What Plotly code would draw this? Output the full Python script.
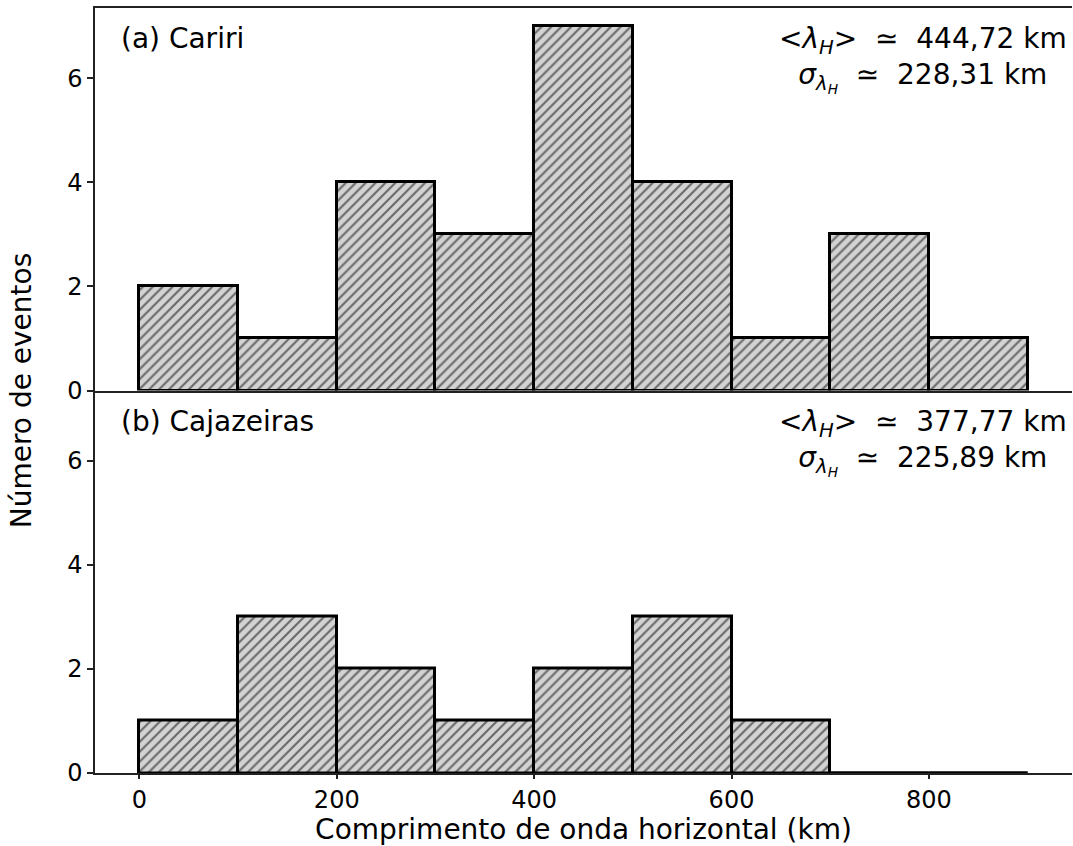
import plotly.graph_objects as go
from plotly.subplots import make_subplots

bin_edges = [0, 100, 200, 300, 400, 500, 600, 700, 800, 900]
cariri_counts = [2, 1, 4, 3, 7, 4, 1, 3, 1]
cajazeiras_counts = [1, 3, 2, 1, 2, 3, 1, 0, 0]
x_ticks = [0, 200, 400, 600, 800]
y_ticks = [0, 2, 4, 6]
panel_titles = ["(a) Cariri", "(b) Cajazeiras"]
SP = "&nbsp;"
stats_text = [
    f"&lt;<i>λ</i><sub><i>H</i></sub>&gt;{SP}{SP}≃{SP}{SP}444,72 km<br><i>σ</i><sub><i>λ</i><sub><i>H</i></sub></sub>{SP}{SP}≃{SP}{SP}228,31 km",
    f"&lt;<i>λ</i><sub><i>H</i></sub>&gt;{SP}{SP}≃{SP}{SP}377,77 km<br><i>σ</i><sub><i>λ</i><sub><i>H</i></sub></sub>{SP}{SP}≃{SP}{SP}225,89 km",
]

FONT = "DejaVu Sans"
centers = [(a + b) / 2 for a, b in zip(bin_edges[:-1], bin_edges[1:])]
widths = [b - a for a, b in zip(bin_edges[:-1], bin_edges[1:])]

fig = make_subplots(rows=2, cols=1, shared_xaxes=True, vertical_spacing=0)

for row, counts in enumerate([cariri_counts, cajazeiras_counts], start=1):
    fig.add_trace(go.Bar(
        x=centers, y=counts, width=widths,
        marker=dict(color="#d3d3d3",
                    line=dict(color="black", width=3),
                    pattern=dict(shape="/", fgcolor="black", bgcolor="#d3d3d3",
                                 size=7, solidity=0.3)),
        showlegend=False, hoverinfo="skip"), row=row, col=1)
    # zero-height bins: edge drawn along baseline
    zx, zy = [], []
    for i, c in enumerate(counts):
        if c == 0:
            zx += [bin_edges[i], bin_edges[i + 1], None]
            zy += [0, 0, None]
    if zx:
        fig.add_trace(go.Scatter(x=zx, y=zy, mode="lines",
                                 line=dict(color="black", width=3),
                                 showlegend=False, hoverinfo="skip", cliponaxis=False),
                      row=row, col=1)

axis_common = dict(showgrid=False, zeroline=False, showline=True, linecolor="#222",
                   linewidth=1.5, ticks="outside", ticklen=6, tickwidth=1.5, tickcolor="#222",
                   tickfont=dict(family=FONT, size=24, color="black"))

fig.update_xaxes(range=[-45, 945], tickvals=x_ticks, **axis_common)
fig.update_yaxes(range=[0, 7.35], tickvals=y_ticks, **axis_common)
fig.update_xaxes(mirror=True, ticks="", row=1, col=1)
fig.update_xaxes(ticklen=4, row=2, col=1)
fig.update_xaxes(title=dict(text="Comprimento de onda horizontal (km)",
                            font=dict(family=FONT, size=28, color="black"), standoff=2),
                 row=2, col=1)

for i, (t, s) in enumerate(zip(panel_titles, stats_text)):
    yref = "y domain" if i == 0 else "y2 domain"
    xref = "x domain" if i == 0 else "x2 domain"
    fig.add_annotation(x=0.025, y=0.92, xref=xref, yref=yref, text=t, showarrow=False,
                       xanchor="left", yanchor="middle",
                       font=dict(family=FONT, size=28, color="black"))
    fig.add_annotation(x=0.848, y=0.968, xref=xref, yref=yref, text=s, showarrow=False,
                       xanchor="center", yanchor="top", align="center",
                       font=dict(family=FONT, size=28, color="black"))

fig.add_annotation(x=-0.075, y=0.5, xref="paper", yref="paper", text="Número de eventos",
                   textangle=-90, showarrow=False, xanchor="center", yanchor="middle",
                   font=dict(family=FONT, size=28, color="black"))

fig.update_layout(width=1073, height=846, paper_bgcolor="white", plot_bgcolor="white",
                  margin=dict(l=95, r=1, t=8, b=73), bargap=0)

post = ("document.body.style.margin='0';document.body.style.overflow='hidden';"
        "var gd=document.getElementById('{plot_id}');gd.style.width='1073px';gd.style.height='846px';"
        "Plotly.relayout(gd,{width:1073,height:846});")
fig.write_html("out.html", post_script=post,
               config={"responsive": False, "displayModeBar": False})
